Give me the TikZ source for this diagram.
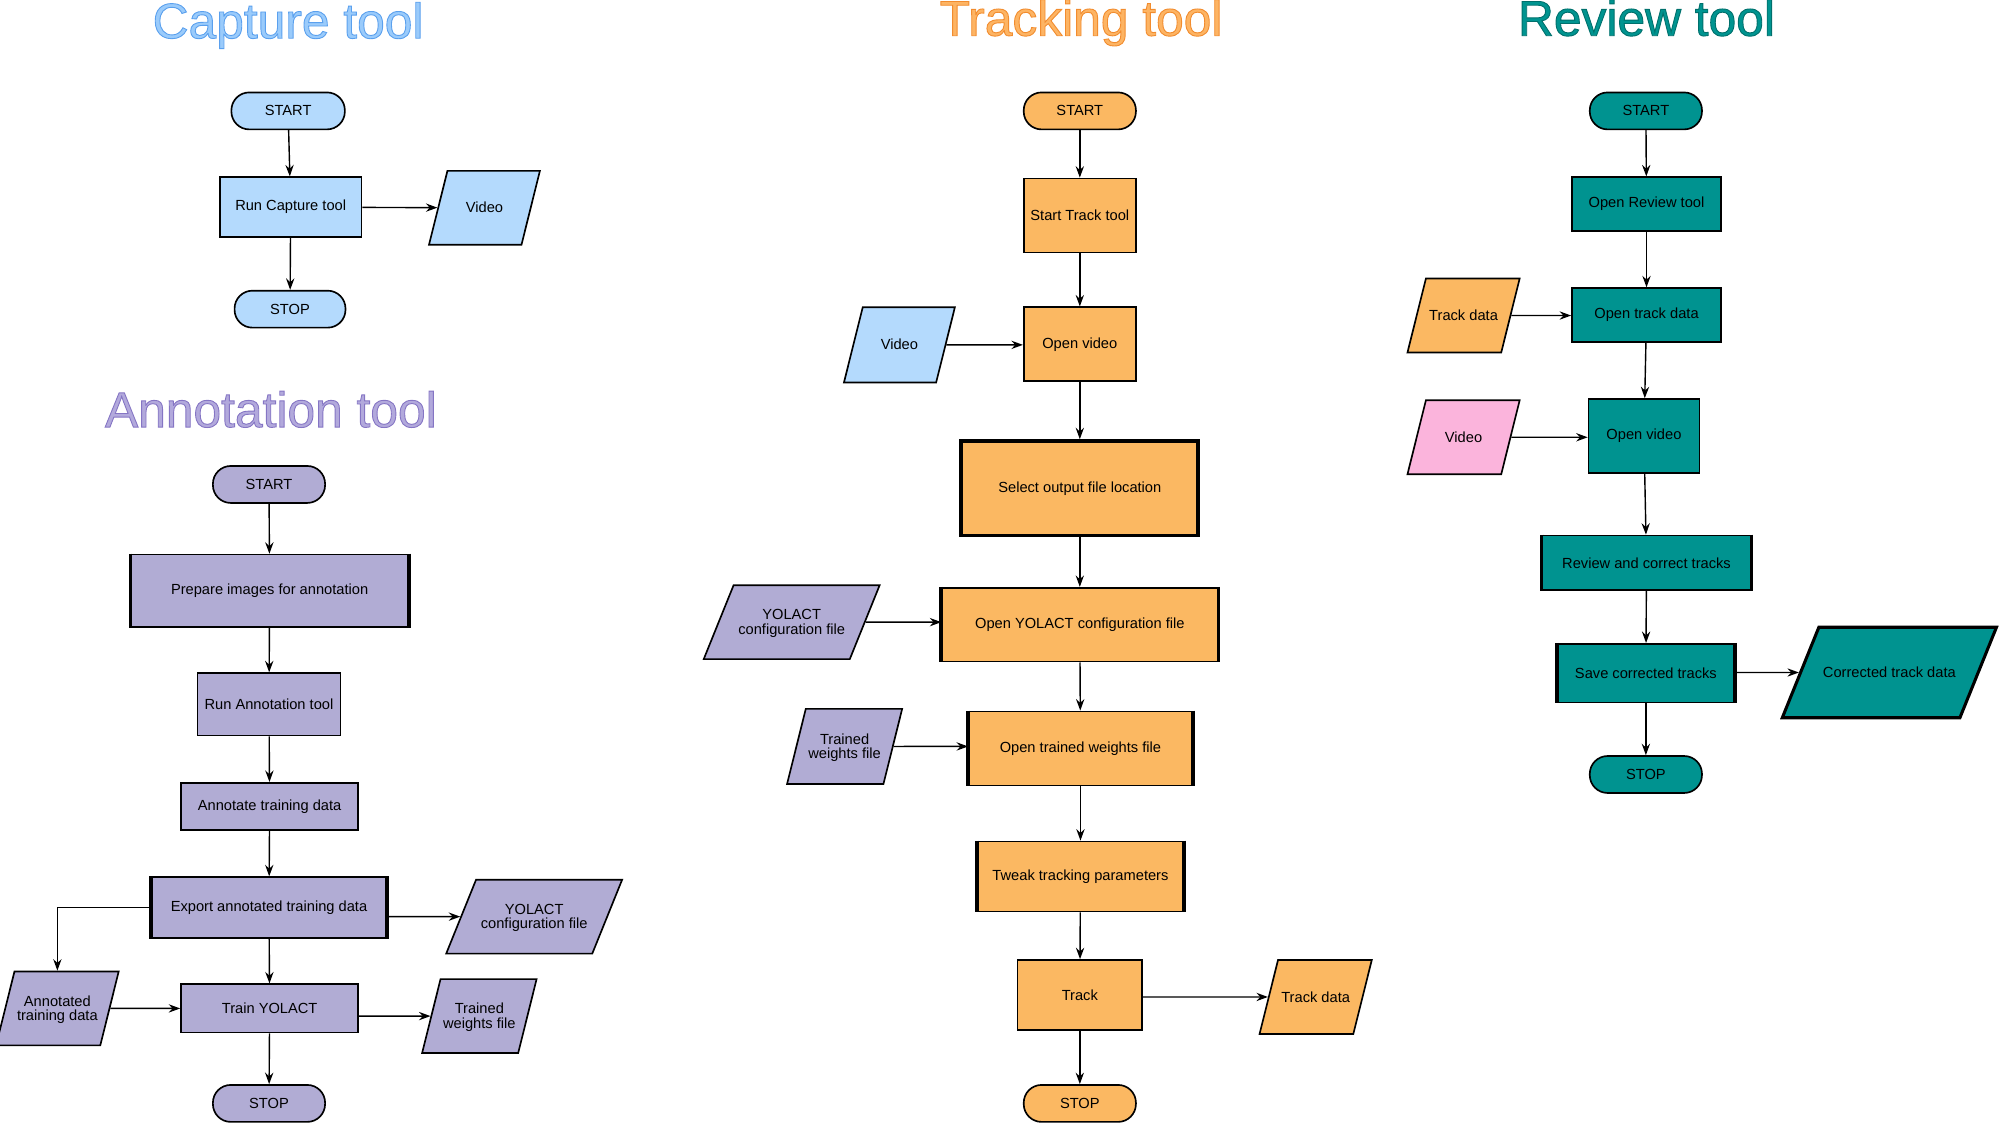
\documentclass[tikz,border=0pt]{standalone}
\usepackage{fontspec}
\setmainfont{Liberation Sans}
\usetikzlibrary{arrows.meta,shapes.geometric}
\definecolor{cblue}{HTML}{B4DAFD}
\definecolor{clav}{HTML}{B1ACD4}
\definecolor{corange}{HTML}{FBB862}
\definecolor{cteal}{HTML}{009390}
\definecolor{cpink}{HTML}{FBB4DC}
\definecolor{tblueS}{HTML}{5AA0EE}
\definecolor{tlavS}{HTML}{8575C4}
\definecolor{torangeS}{HTML}{F28C2E}
\definecolor{ttealS}{HTML}{00706C}
\newcommand\outlinetext[3]{{\color{#1}\special{pdf:literal direct #2 rg 2 Tr 0.7 w}#3\special{pdf:literal direct 0 Tr}}}
\newcommand\parabox[2]{\vbox to #1pt{\vskip 3pt plus 1fil\hbox{\begin{tabular}{@{}c@{}}#2\end{tabular}}\vskip 0pt plus 1fil}}
\begin{document}
\begin{tikzpicture}[x={(1pt,0)},y={(0,-1pt)},
  every node/.style={font=\fontsize{11.5}{11}\selectfont, inner sep=1pt},
  base/.style={draw=black, line width=1.3pt, text=black},
  pill/.style={base, rectangle, rounded corners=14pt, minimum height=29pt},
  box/.style={base, rectangle},
  para/.style={base, trapezium, trapezium left angle=76, trapezium right angle=104,
    trapezium stretches body, inner ysep=0pt, inner xsep=2pt},
  wide/.style={trapezium left angle=68, trapezium right angle=112},
  thicksides/.style={append after command={\pgfextra{\draw[line width=3pt]
    (\tikzlastnode.north west) -- (\tikzlastnode.south west)
    (\tikzlastnode.north east) -- (\tikzlastnode.south east);}}},
  arr/.style={draw=black, line width=1.1pt, -{Stealth[length=9pt,width=6.5pt,inset=3pt]}},
  title/.style={anchor=base, font=\fontsize{39}{39}\selectfont, inner sep=0pt}
]
\useasboundingbox (0,0) rectangle (1568,881);

% ---------------- Capture tool ----------------
\node[title] (ctitle) at (226,30) {\outlinetext{tblueS}{0.604 0.796 0.984}{Capture tool}};
\node[pill, fill=cblue, minimum width=89pt] (cstart) at (226,87) {START};
\node[box, fill=cblue, minimum width=111pt, minimum height=47pt] (crun) at (228,162.5) {Run Capture tool};
\node[para, fill=cblue, minimum width=87pt] (cvid) at (380,163) {\parabox{58}{Video}};
\node[pill, fill=cblue, minimum width=87pt] (cstop) at (227.5,242.5) {STOP};
\draw[arr] (cstart) -- (crun);
\draw[arr] (crun) -- (cvid);
\draw[arr] (crun) -- (cstop);

% ---------------- Annotation tool ----------------
\node[title] (atitle) at (212.5,335) {\outlinetext{tlavS}{0.698 0.663 0.863}{Annotation tool}};
\node[pill, fill=clav, minimum width=88pt] (astart) at (211,380) {START};
\node[box, fill=clav, minimum width=217pt, minimum height=57pt, thicksides] (aprep) at (211.5,463.5) {Prepare images for annotation};
\node[box, fill=clav, minimum width=112pt, minimum height=49pt] (arun) at (211,552.5) {Run Annotation tool};
\node[box, fill=clav, minimum width=139pt, minimum height=37pt] (aann) at (211.5,632.5) {Annotate training data};
\node[box, fill=clav, minimum width=184pt, minimum height=48pt, thicksides] (aexp) at (211,712) {Export annotated training data};
\node[para, wide, fill=clav, minimum width=138pt] (ayc) at (419,719) {\parabox{58}{YOLACT\\configuration file}};
\node[para, fill=clav, minimum width=87pt] (aatd) at (45,791) {\parabox{58}{Annotated\\training data}};
\node[box, fill=clav, minimum width=139pt, minimum height=38pt] (atrain) at (211.5,791) {Train YOLACT};
\node[para, fill=clav, minimum width=88pt] (atw) at (376,797) {\parabox{58}{Trained\\weights file}};
\node[pill, fill=clav, minimum width=88pt] (astop) at (211,865.5) {STOP};
\draw[arr] (astart) -- (aprep);
\draw[arr] (aprep) -- (arun);
\draw[arr] (arun) -- (aann);
\draw[arr] (aann) -- (aexp);
\draw[arr] (aexp) -- (atrain);
\draw[arr] (aexp.east |- ayc) -- (ayc);
\draw[arr] (aexp.west) -| (aatd.north);
\draw[arr] (aatd) -- (atrain);
\draw[arr] (atrain.east |- atw) -- (atw);
\draw[arr] (atrain) -- (astop);

% ---------------- Tracking tool ----------------
\node[title] (ttitle) at (848,28) {\outlinetext{torangeS}{0.992 0.706 0.388}{Tracking tool}};
\node[pill, fill=corange, minimum width=88pt] (tstart) at (847,87) {START};
\node[box, fill=corange, minimum width=88pt, minimum height=58pt] (tst) at (847,169) {Start Track tool};
\node[box, fill=corange, minimum width=88pt, minimum height=58pt] (tov) at (847,270) {Open video};
\node[para, fill=cblue, minimum width=87pt] (tvid) at (705.5,270.5) {\parabox{59}{Video}};
\node[box, fill=corange, minimum width=186pt, minimum height=74pt, line width=3pt] (tsel) at (847,383) {Select output file location};
\node[box, fill=corange, minimum width=216pt, minimum height=58pt, thicksides] (toy) at (847,490) {Open YOLACT configuration file};
\node[para, wide, fill=clav, minimum width=138pt] (tyc) at (621,488) {\parabox{58}{YOLACT\\configuration file}};
\node[box, fill=corange, minimum width=175pt, minimum height=58pt, thicksides] (totw) at (847.5,587) {Open trained weights file};
\node[para, fill=clav, minimum width=87pt] (ttw) at (662.5,585.5) {\parabox{59}{Trained\\weights file}};
\node[box, fill=corange, minimum width=161pt, minimum height=55pt, thicksides] (ttweak) at (847.5,687.5) {Tweak tracking parameters};
\node[box, fill=corange, minimum width=98pt, minimum height=55pt] (ttrack) at (847,780.5) {Track};
\node[para, fill=corange, minimum width=88pt] (ttd) at (1032,782) {\parabox{58}{Track data}};
\node[pill, fill=corange, minimum width=88pt] (tstop) at (847,865.5) {STOP};
\draw[arr] (tstart) -- (tst);
\draw[arr] (tst) -- (tov);
\draw[arr] (tvid) -- (tov.west |- tvid);
\draw[arr] (tov) -- (tsel);
\draw[arr] (tsel) -- (toy);
\draw[arr] (tyc) -- (toy.west |- tyc);
\draw[arr] (toy) -- (totw);
\draw[arr] (ttw) -- (totw.west |- ttw);
\draw[arr] (totw) -- (ttweak);
\draw[arr] (ttweak) -- (ttrack);
\draw[arr] (ttrack.east |- ttd) -- (ttd);
\draw[arr] (ttrack) -- (tstop);

% ---------------- Review tool ----------------
\node[title] (rtitle) at (1291.5,28) {\outlinetext{ttealS}{0 0.58 0.565}{Review tool}};
\node[pill, fill=cteal, minimum width=88pt] (rstart) at (1291,87) {START};
\node[box, fill=cteal, minimum width=117pt, minimum height=42pt] (rort) at (1291.5,160) {Open Review tool};
\node[box, fill=cteal, minimum width=117pt, minimum height=42pt] (rotd) at (1291.5,247) {Open track data};
\node[para, fill=corange, minimum width=88pt] (rtd) at (1148,247.5) {\parabox{58}{Track data}};
\node[box, fill=cteal, minimum width=87pt, minimum height=58pt] (rov) at (1289.5,342) {Open video};
\node[para, fill=cpink, minimum width=88pt] (rvid) at (1148,343) {\parabox{58}{Video}};
\node[box, fill=cteal, minimum width=163pt, minimum height=43pt, thicksides] (rrev) at (1291.5,441.5) {Review and correct tracks};
\node[box, fill=cteal, minimum width=138pt, minimum height=46pt, thicksides] (rsave) at (1291,528) {Save corrected tracks};
\node[para, wide, fill=cteal, minimum width=168pt, line width=2.4pt] (rctd) at (1482,527.5) {\parabox{71}{Corrected track data}};
\node[pill, fill=cteal, minimum width=88pt] (rstop) at (1291,607.5) {STOP};
\draw[arr] (rstart) -- (rort);
\draw[arr] (rort) -- (rotd);
\draw[arr] (rtd) -- (rotd.west |- rtd);
\draw[arr] (rotd) -- (rov);
\draw[arr] (rvid) -- (rov.west |- rvid);
\draw[arr] (rov) -- (rrev);
\draw[arr] (rrev) -- (rsave);
\draw[arr] (rsave.east |- rctd) -- (rctd);
\draw[arr] (rsave) -- (rstop);
\end{tikzpicture}
\end{document}
